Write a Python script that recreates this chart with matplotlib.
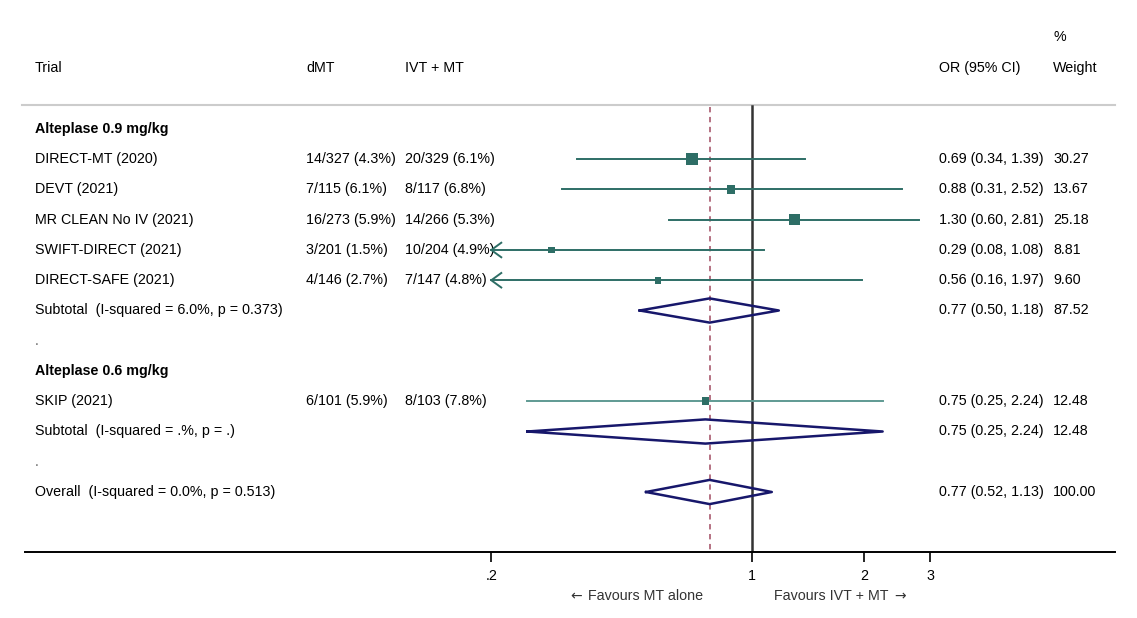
import numpy as np
import matplotlib
matplotlib.use("Agg")
import matplotlib.pyplot as plt
from matplotlib.transforms import blended_transform_factory

plt.rcParams["font.family"] = ["Liberation Sans", "DejaVu Sans"]

# ---- data ----
trials = ["DIRECT-MT (2020)", "DEVT (2021)", "MR CLEAN No IV (2021)",
          "SWIFT-DIRECT (2021)", "DIRECT-SAFE (2021)", "SKIP (2021)"]
dmt = ["14/327 (4.3%)", "7/115 (6.1%)", "16/273 (5.9%)",
       "3/201 (1.5%)", "4/146 (2.7%)", "6/101 (5.9%)"]
ivt_mt = ["20/329 (6.1%)", "8/117 (6.8%)", "14/266 (5.3%)",
          "10/204 (4.9%)", "7/147 (4.8%)", "8/103 (7.8%)"]
or_est = [0.69, 0.88, 1.30, 0.29, 0.56, 0.75]
or_lo = [0.34, 0.31, 0.60, 0.08, 0.16, 0.25]
or_hi = [1.39, 2.52, 2.81, 1.08, 1.97, 2.24]
weights = [30.27, 13.67, 25.18, 8.81, 9.60, 12.48]
trial_rows = [1, 2, 3, 4, 5, 9]

pooled_labels = ["Subtotal  (I-squared = 6.0%, p = 0.373)",
                 "Subtotal  (I-squared = .%, p = .)",
                 "Overall  (I-squared = 0.0%, p = 0.513)"]
pooled_est = [0.77, 0.75, 0.77]
pooled_lo = [0.50, 0.25, 0.52]
pooled_hi = [1.18, 2.24, 1.13]
pooled_w = [87.52, 12.48, 100.00]
pooled_rows = [6, 10, 12]

groups = ["Alteplase 0.9 mg/kg", "Alteplase 0.6 mg/kg"]
group_rows = [0, 8]
spacer_rows = [7, 11]

overall_or = 0.77
x_min_plot = 0.2
ticks = [0.2, 1, 2, 3]
tick_labels = [".2", "1", "2", "3"]

# ---- layout (pixel-based) ----
W, H = 1137, 618
ROW0, STEP = 129, 30.25          # pixel y of row 0, pixels per row
AXIS_Y = 552


def prow(py):
    return (py - ROW0) / STEP


fig = plt.figure(figsize=(W / 100, H / 100), dpi=100)
px0, px1 = 25, 1115
ax = fig.add_axes([px0 / W, (H - AXIS_Y) / H, (px1 - px0) / W, AXIS_Y / H])
# log x: pixel = 752 + 162*ln(x)
ax.set_xscale("log")
ax.set_xlim(np.exp((px0 - 752) / 162), np.exp((px1 - 752) / 162))
ax.set_ylim(prow(AXIS_Y), prow(0))
for s in ["top", "left", "right"]:
    ax.spines[s].set_visible(False)
ax.spines["bottom"].set_linewidth(1.4)
ax.set_yticks([])
ax.set_xticks(ticks)
ax.set_xticklabels(tick_labels, fontsize=10.3)
ax.xaxis.set_minor_locator(matplotlib.ticker.NullLocator())
ax.tick_params(axis="x", direction="out", length=7, width=1.2, pad=5)

tr = blended_transform_factory(fig.transFigure, ax.transData)
fs = 10.3
teal = "#2e6e66"
navy = "#17176b"


def txt(px, row, s, **kw):
    kw.setdefault("fontsize", fs)
    ax.text(px / W, row, s, transform=tr, va="center", ha="left",
            clip_on=False, **kw)


col_trial, col_dmt, col_ivt, col_or, col_w = 35, 306, 405, 939, 1053

# header
txt(col_trial, prow(68), "Trial")
txt(col_dmt, prow(68), "dMT")
txt(col_ivt, prow(68), "IVT + MT")
txt(col_or, prow(68), "OR (95% CI)")
txt(col_w, prow(68), "Weight")
txt(col_w, prow(37), "%")
ax.plot([22 / W, 1115 / W], [prow(105), prow(105)], transform=tr,
        color="#cccccc", lw=1.5, clip_on=False)

# reference lines
ax.plot([1, 1], [prow(106), prow(AXIS_Y)], color="#333333", lw=1.8, zorder=2)
ax.plot([overall_or, overall_or], [prow(107), prow(AXIS_Y)], color="#a04a60",
        lw=1.1, ls=(0, (3.5, 3)), zorder=2)

for g, r in zip(groups, group_rows):
    txt(col_trial, r, g, fontweight="bold")
for r in spacer_rows:
    txt(col_trial, r, ".", color="#666666")

arrow_dx = np.exp(10 / 162)
for i, r in enumerate(trial_rows):
    txt(col_trial, r, trials[i])
    txt(col_dmt, r, dmt[i])
    txt(col_ivt, r, ivt_mt[i])
    txt(col_or, r, f"{or_est[i]:.2f} ({or_lo[i]:.2f}, {or_hi[i]:.2f})")
    txt(col_w, r, f"{weights[i]:.2f}")
    lo = max(or_lo[i], x_min_plot)
    lc = teal if r != 9 else "#5f9a93"
    ax.plot([lo, or_hi[i]], [r, r], color=lc, lw=1.4, zorder=3)
    if or_lo[i] < x_min_plot:
        ax.plot([x_min_plot * arrow_dx, x_min_plot, x_min_plot * arrow_dx],
                [r - 0.24, r, r + 0.24], color=teal, lw=1.4, zorder=3)
    side_pt = 2.18 * np.sqrt(weights[i]) * 0.72
    ax.scatter([or_est[i]], [r], marker="s", s=side_pt ** 2, color=teal,
               edgecolors="none", zorder=4)

for i, r in enumerate(pooled_rows):
    txt(col_trial, r, pooled_labels[i])
    txt(col_or, r, f"{pooled_est[i]:.2f} ({pooled_lo[i]:.2f}, {pooled_hi[i]:.2f})")
    txt(col_w, r, f"{pooled_w[i]:.2f}")
    xs = [pooled_lo[i], pooled_est[i], pooled_hi[i], pooled_est[i], pooled_lo[i]]
    ys = [r, r - 0.4, r, r + 0.4, r]
    ax.plot(xs, ys, color=navy, lw=1.8, zorder=4)

# favours labels (arrows drawn in DejaVu Sans so they sit on the midline)
fy = (H - 596) / H
fig.text(703 / W, fy, "Favours MT alone", ha="right", va="center",
         fontsize=fs, color="#333333")
fig.text(570 / W, fy, "\u2190", ha="left", va="center", fontsize=10,
         color="#333333", family="DejaVu Sans")
fig.text(774 / W, fy, "Favours IVT + MT", ha="left", va="center",
         fontsize=fs, color="#333333")
fig.text(906 / W, fy, "\u2192", ha="right", va="center", fontsize=10,
         color="#333333", family="DejaVu Sans")

fig.savefig("out.png", dpi=100)
